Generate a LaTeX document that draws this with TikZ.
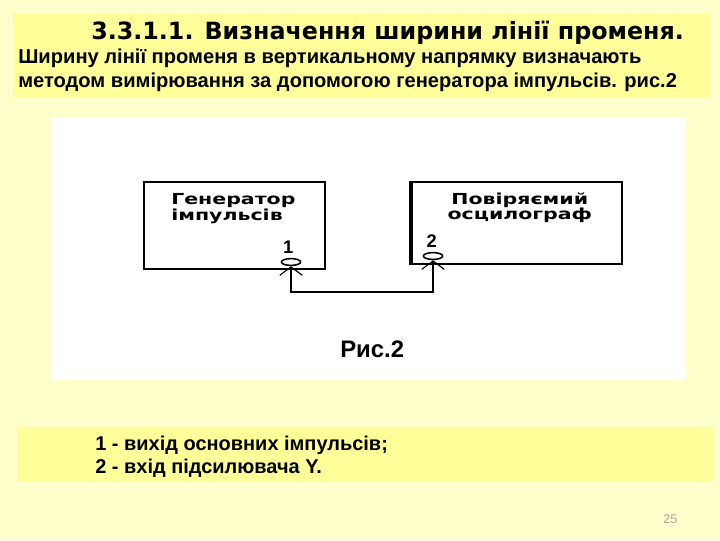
\documentclass[tikz,border=0pt]{standalone}
\usepackage{fontspec}
\setmainfont{Liberation Sans}
\newfontfamily\headfont{DejaVu Sans}
\newfontfamily\devfont[FakeStretch=1.35]{DejaVu Sans}
\usetikzlibrary{shapes.geometric, arrows.meta, positioning}
\definecolor{slidebg}{RGB}{255,255,204}
\definecolor{bandfill}{RGB}{255,255,153}

\begin{document}
\begin{tikzpicture}[
  x=0.025cm, y=-0.025cm,
  band/.style     = {fill=bandfill, draw=none},
  device/.style   = {rectangle, draw=black, line width=1.4pt,
                     inner sep=0pt},
  devtext/.style  = {font=\devfont\bfseries\fontsize{10.8pt}{11.3pt}\selectfont,
                     align=left, inner sep=0pt},
  port/.style     = {ellipse, draw=black, line width=1.1pt,
                     minimum width=0.48cm, minimum height=0.17cm, inner sep=0pt},
  portnum/.style  = {font=\bfseries\fontsize{13pt}{13pt}\selectfont, inner sep=0pt},
  link/.style     = {{Straight Barb[length=6pt, width=16pt, line width=0.8pt]}-{Straight Barb[length=6pt, width=16pt, line width=0.8pt]},
                     line width=1.4pt},
  slidetext/.style = {font=\bfseries\fontsize{14.3pt}{17pt}\selectfont,
                     align=left, inner sep=0pt},
]

%% slide background and panels
\useasboundingbox (0,0) rectangle (720,540);
\fill[slidebg] (0,0) rectangle (720,540);
\fill[band] (13,13) rectangle (710,97);
\fill[white] (51,117) rectangle (686,380);
\fill[band] (17,427) rectangle (713,482);

%% heading
\node[anchor=base west, inner sep=0pt,
      font=\headfont\bfseries\fontsize{16.9pt}{18pt}\selectfont] (title) at (91,39)
  {3.3.1.1. Визначення ширини лінії променя.};
\node[slidetext, anchor=north west] (intro) at (18,49)
  {Ширину лінії променя в вертикальному напрямку визначають\\
   методом вимірювання за допомогою генератора імпульсів. рис.2};

%% devices
\node[device, minimum width=4.525cm, minimum height=2.175cm] (gen) at (234.5,225.5) {};
\node[device, minimum width=5.25cm, minimum height=2.05cm] (osc) at (517,223) {};
\draw[line width=3.5pt] (osc.north west) -- (osc.south west);

\node[devtext, below right=0.3cm and 0.7cm of gen.north west, anchor=north west] (gentext)
  {Генератор\\імпульсів};
\node[devtext, below=0.28cm of osc.north, xshift=2pt, align=center] (osctext)
  {Повіряємий\\осцилограф};

%% ports
\node[port] (p1) at (291,262) {};
\node[port] (p2) at (433,256) {};
\node[portnum, above=0.11cm of p1, xshift=-2pt] (n1) {1};
\node[portnum, above=0.09cm of p2, xshift=-1pt] (n2) {2};

\draw[link] (p1.south) -- ++(0,26) -| (p2.south);

\node[anchor=base west, inner sep=0pt,
      font=\bfseries\fontsize{17pt}{20pt}\selectfont] (fig) at (340,357) {Рис.2};

%% legend
\node[anchor=north west, inner sep=0pt, align=left,
      font=\bfseries\fontsize{14.2pt}{16pt}\selectfont] (legend) at (95,436)
  {1 - вихід основних імпульсів;\\2 - вхід підсилювача Y.};

\node[anchor=base west, inner sep=0pt, text=black!35,
      font=\fontsize{9pt}{10pt}\selectfont] (page) at (663,523) {25};

\end{tikzpicture}
\end{document}
